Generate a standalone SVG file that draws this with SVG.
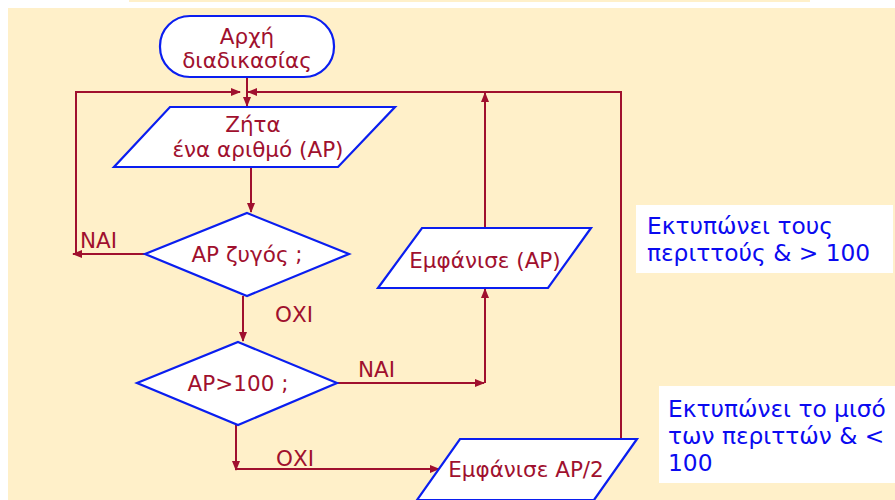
<svg xmlns="http://www.w3.org/2000/svg" width="895" height="500" viewBox="0 0 895 500">
<defs>
<style>
.bg{fill:#FFF0C9}
.shape{fill:#FFFFFF;stroke:#0A1EF0;stroke-width:2.2}
.line{fill:none;stroke:#A0102E;stroke-width:2}
.t{font-family:"DejaVu Sans",Verdana,sans-serif;font-size:21.5px;fill:#A0102E}
.note{font-family:"DejaVu Sans",Verdana,sans-serif;font-size:23.3px;fill:#0A0AF0}
</style>
<marker id="ar" markerUnits="userSpaceOnUse" markerWidth="10" markerHeight="10" viewBox="0 0 10 10" refX="9" refY="5" orient="auto">
<path d="M0,1 L10,5 L0,9 z" fill="#A0102E"/>
</marker>
</defs>
<rect x="0" y="0" width="895" height="500" fill="#FFFFFF"/>
<rect class="bg" x="129" y="0" width="681" height="2"/>
<rect class="bg" x="8" y="8" width="887" height="492"/>

<g id="connectors">
<line class="line" x1="247" y1="77" x2="247" y2="106" marker-end="url(#ar)"/>
<polyline class="line" points="621,438 621,92 248,92" marker-end="url(#ar)"/>
<polyline class="line" points="76,254 76,92 240,92" marker-end="url(#ar)"/>
<line class="line" x1="145" y1="254" x2="73" y2="254" marker-end="url(#ar)"/>
<line class="line" x1="251" y1="167" x2="251" y2="212" marker-end="url(#ar)"/>
<line class="line" x1="243" y1="296" x2="243" y2="341" marker-end="url(#ar)"/>
<line class="line" x1="337" y1="383" x2="484" y2="383" marker-end="url(#ar)"/>
<line class="line" x1="485" y1="383" x2="485" y2="289" marker-end="url(#ar)"/>
<line class="line" x1="485" y1="228" x2="485" y2="93" marker-end="url(#ar)"/>
<line class="line" x1="236" y1="425" x2="236" y2="470" marker-end="url(#ar)"/>
<line class="line" x1="236" y1="469" x2="439" y2="469" marker-end="url(#ar)"/>
<text class="t" x="80" y="248">ΝΑΙ</text>
<text class="t" x="275" y="322">ΟΧΙ</text>
<text class="t" x="358" y="377">ΝΑΙ</text>
<text class="t" x="276" y="466">ΟΧΙ</text>
</g>

<g id="start">
<rect class="shape" x="160" y="16" width="174" height="61" rx="30" ry="30"/>
<text class="t" x="247" y="44" text-anchor="middle">Αρχή</text>
<text class="t" x="247" y="68" text-anchor="middle">διαδικασίας</text>
</g>

<g id="input">
<polygon class="shape" points="170,107 395,107 338,167 114,167"/>
<text class="t" x="253" y="132" text-anchor="middle">Ζήτα</text>
<text class="t" x="258" y="157" text-anchor="middle">ένα αριθμό (ΑΡ)</text>
</g>

<g id="even">
<polygon class="shape" points="247,213 349,254 247,296 145,254"/>
<text class="t" x="247" y="262" text-anchor="middle">ΑΡ ζυγός ;</text>
</g>

<g id="gt100">
<polygon class="shape" points="238,342 337,383 238,425 137,383"/>
<text class="t" x="238" y="391" text-anchor="middle">ΑΡ&gt;100 ;</text>
</g>

<g id="print">
<polygon class="shape" points="422,228 591,228 548,288 378,288"/>
<text class="t" x="485" y="268" text-anchor="middle">Εμφάνισε (ΑΡ)</text>
</g>

<g id="printhalf">
<polygon class="shape" points="460,439 637,439 594,500 417,500"/>
<text class="t" x="526" y="477" text-anchor="middle">Εμφάνισε ΑΡ/2</text>
</g>

<g id="note1">
<rect x="636" y="205" width="257" height="68" fill="#FFFFFF"/>
<text class="note" x="647" y="234">Εκτυπώνει τους</text>
<text class="note" x="647" y="261">περιττούς &amp; &gt; 100</text>
</g>

<g id="note2">
<rect x="659" y="386" width="236" height="97" fill="#FFFFFF"/>
<text class="note" x="668" y="417">Εκτυπώνει το μισό</text>
<text class="note" x="668" y="444">των περιττών &amp; &lt;</text>
<text class="note" x="668" y="471">100</text>
</g>
</svg>
